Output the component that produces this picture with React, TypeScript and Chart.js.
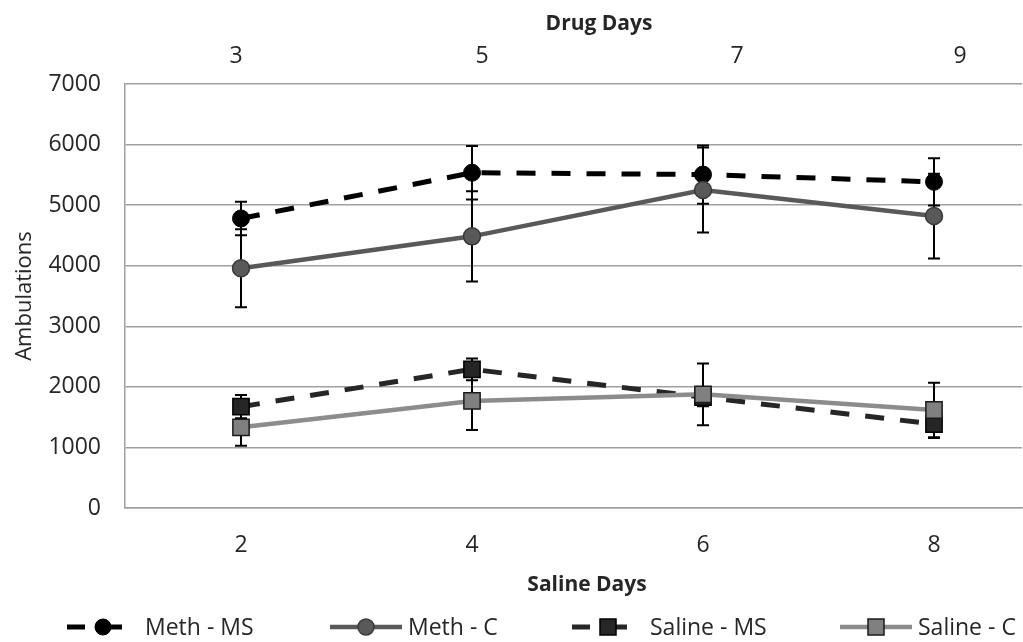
import React, { useEffect, useRef } from 'react';
import { Chart, registerables } from 'chart.js';

Chart.register(...registerables);

// ---- data ----
const salineDays = ['2', '4', '6', '8'];
const drugDays = ['3', '5', '7', '9'];

const methMS = [4780, 5535, 5505, 5385];
const methMSErr = [275, 440, 480, 390];
const methC = [3957, 4485, 5250, 4820];
const methCErr = [644, 745, 700, 700];
const salineMS = [1673, 2290, 1830, 1385];
const salineMSErr = [193, 180, 150, 230];
const salineC = [1332, 1767, 1877, 1618];
const salineCErr = [303, 479, 510, 451];

const seriesNames = ['Meth - MS', 'Meth - C', 'Saline - MS', 'Saline - C'];
const yTitle = 'Ambulations';
const topTitle = 'Drug Days';
const bottomTitle = 'Saline Days';

const FONT = '"Open Sans", "DejaVu Sans", sans-serif';
const TEXT = '#262626';
const GRID = '#a0a0a0';

const toPts = (arr: number[]) => arr.map((v, i) => ({ x: i, y: v }));

const errorBarPlugin = {
  id: 'errorBars',
  beforeDatasetsDraw(chart: any) {
    const { ctx } = chart;
    const yScale = chart.scales.y;
    ctx.save();
    ctx.strokeStyle = '#000';
    ctx.lineWidth = 2;
    chart.data.datasets.forEach((ds: any, di: number) => {
      const meta = chart.getDatasetMeta(di);
      meta.data.forEach((pt: any, j: number) => {
        const v = ds.data[j].y;
        const e = ds.errors[j];
        const x = pt.x;
        const yTop = yScale.getPixelForValue(v + e);
        const yBot = yScale.getPixelForValue(v - e);
        ctx.beginPath();
        ctx.moveTo(x, yTop);
        ctx.lineTo(x, yBot);
        ctx.moveTo(x - 6, yTop);
        ctx.lineTo(x + 6, yTop);
        ctx.moveTo(x - 6, yBot);
        ctx.lineTo(x + 6, yBot);
        ctx.stroke();
      });
    });
    ctx.restore();
  },
};

const LEGEND_X = [67, 330, 572, 840];

const textPlugin = {
  id: 'customText',
  afterDraw(chart: any) {
    const { ctx } = chart;
    ctx.save();
    ctx.fillStyle = TEXT;
    ctx.textBaseline = 'alphabetic';
    ctx.textAlign = 'center';
    ctx.font = `bold 21px ${FONT}`;
    ctx.fillText(topTitle, 599, 30);
    ctx.fillText(bottomTitle, 587, 591);

    // legend
    ctx.textAlign = 'left';
    ctx.font = `23px ${FONT}`;
    const ly = 627;
    chart.data.datasets.forEach((ds: any, di: number) => {
      const x = LEGEND_X[di];
      ctx.save();
      ctx.strokeStyle = ds.borderColor;
      ctx.lineWidth = ds.borderWidth;
      ctx.beginPath();
      if (ds.borderDash) {
        ctx.moveTo(x, ly);
        ctx.lineTo(x + 18, ly);
        ctx.moveTo(x + 28, ly);
        ctx.lineTo(x + 55, ly);
      } else {
        ctx.moveTo(x, ly);
        ctx.lineTo(x + 72, ly);
      }
      ctx.stroke();
      ctx.fillStyle = ds.pointBackgroundColor;
      ctx.strokeStyle = ds.pointBorderColor;
      ctx.lineWidth = ds.pointBorderWidth;
      const cx = x + 36;
      ctx.beginPath();
      if (ds.pointStyle === 'rect') {
        ctx.rect(cx - 8, ly - 8, 16, 16);
      } else {
        ctx.arc(cx, ly, 8, 0, Math.PI * 2);
      }
      ctx.fill();
      ctx.stroke();
      ctx.restore();
      ctx.fillStyle = TEXT;
      ctx.fillText(ds.label, x + 78, 635);
    });
    ctx.restore();
  },
};

const X_LEFT_PX = 125;
const CANVAS_W = 1035; // wider than the view; the plot runs off the right edge as in the original
const VIEW_W = 1023;
const VIEW_H = 642;

// layout: bottom categories (first pixel, spacing); top axis label pixel positions
const BOTTOM_FIRST = 241;
const BOTTOM_STEP = 231;
const TOP_TICK_PX = [236, 482, 737, 960];

export default function App() {
  const ref = useRef<HTMLCanvasElement>(null);
  useEffect(() => {
    if (!ref.current) return;

    const chart: any = new Chart(ref.current, {
      type: 'line',
      data: {
        datasets: [
          {
            label: seriesNames[0],
            data: toPts(methMS),
            errors: methMSErr,
            borderColor: '#000000',
            borderWidth: 5,
            borderDash: [19, 16],
            pointStyle: 'circle',
            pointRadius: 8.5,
            pointBackgroundColor: '#000000',
            pointBorderColor: '#000000',
            pointBorderWidth: 1,
            order: 3,
          } as any,
          {
            label: seriesNames[1],
            data: toPts(methC),
            errors: methCErr,
            borderColor: '#595959',
            borderWidth: 4.5,
            pointStyle: 'circle',
            pointRadius: 8.5,
            pointBackgroundColor: '#595959',
            pointBorderColor: '#3a3a3a',
            pointBorderWidth: 1.5,
            order: 2,
          } as any,
          {
            label: seriesNames[2],
            data: toPts(salineMS),
            errors: salineMSErr,
            borderColor: '#262626',
            borderWidth: 5,
            borderDash: [19, 16],
            pointStyle: 'rect',
            pointRadius: 11.5,
            pointBackgroundColor: '#262626',
            pointBorderColor: '#000000',
            pointBorderWidth: 1.5,
            order: 1,
          } as any,
          {
            label: seriesNames[3],
            data: toPts(salineC),
            errors: salineCErr,
            borderColor: '#8c8c8c',
            borderWidth: 4.5,
            pointStyle: 'rect',
            pointRadius: 11.5,
            pointBackgroundColor: '#808080',
            pointBorderColor: '#1a1a1a',
            pointBorderWidth: 1.5,
            order: 0,
          } as any,
        ],
      },
      options: {
        responsive: false,
        animation: false,
        layout: { padding: { left: 0, right: 0, top: 0, bottom: 0 } },
        plugins: {
          legend: { display: false },
          tooltip: { enabled: false },
        },
        elements: { line: { tension: 0 } },
        scales: {
          x: {
            type: 'linear',
            position: 'bottom',
            min: -0.5,
            max: 3.37,
            afterBuildTicks: (s: any) => {
              s.ticks = salineDays.map((_, i) => ({ value: i }));
            },
            afterFit: (s: any) => {
              s.height = VIEW_H - 508;
              s.paddingLeft = 0;
              s.paddingRight = 0;
            },
            grid: { display: true, drawOnChartArea: false, drawTicks: true, tickLength: 24, color: 'rgba(0,0,0,0)' },
            border: { display: true, color: GRID, width: 1.5 },
            ticks: {
              autoSkip: false,
              maxRotation: 0,
              padding: 0,
              color: TEXT,
              font: { family: FONT, size: 23 },
              callback: (v: any) => salineDays[Math.round(v)] ?? '',
            },
          },
          x2: {
            type: 'linear',
            position: 'top',
            min: X_LEFT_PX,
            max: 1020,
            afterBuildTicks: (s: any) => {
              s.ticks = TOP_TICK_PX.map((p) => ({ value: p }));
            },
            afterFit: (s: any) => {
              s.height = 84;
              s.paddingLeft = 0;
              s.paddingRight = 0;
            },
            grid: { display: true, drawOnChartArea: false, drawTicks: true, tickLength: 14, color: 'rgba(0,0,0,0)' },
            border: { display: false },
            ticks: {
              autoSkip: false,
              maxRotation: 0,
              padding: 0,
              color: TEXT,
              font: { family: FONT, size: 23 },
              callback: (v: any) => drugDays[TOP_TICK_PX.indexOf(v)] ?? '',
            },
          },
          y: {
            type: 'linear',
            min: 0,
            max: 7000,
            afterFit: (s: any) => {
              s.width = X_LEFT_PX;
            },
            grid: { color: GRID, lineWidth: 1.5, drawTicks: false },
            border: { display: true, color: GRID, width: 1.5 },
            ticks: {
              stepSize: 1000,
              padding: 24,
              color: TEXT,
              font: { family: FONT, size: 23 },
              callback: (v: any) => String(v),
            },
            title: {
              display: true,
              text: yTitle,
              color: TEXT,
              font: { family: FONT, size: 22 },
              padding: { top: 12, bottom: 0 },
            },
          },
        },
      } as any,
      plugins: [errorBarPlugin, textPlugin],
    });

    // place category positions at their pixel locations using the real plot area
    const applyRanges = () => {
      const ca = chart.chartArea;
      const w = ca.right - ca.left;
      const xo = chart.options.scales.x;
      xo.min = (ca.left - BOTTOM_FIRST) / BOTTOM_STEP;
      xo.max = xo.min + w / BOTTOM_STEP;
      const to = chart.options.scales.x2;
      to.min = ca.left;
      to.max = ca.right;
      chart.update();
    };
    applyRanges();
    applyRanges();

    return () => chart.destroy();
  }, []);

  return (
    <div
      style={{
        position: 'absolute',
        left: 0,
        top: 0,
        width: VIEW_W,
        height: VIEW_H,
        overflow: 'hidden',
        background: '#fff',
      }}
    >
      <canvas ref={ref} width={CANVAS_W} height={VIEW_H} style={{ width: CANVAS_W, height: VIEW_H, display: 'block' }} />
    </div>
  );
}
